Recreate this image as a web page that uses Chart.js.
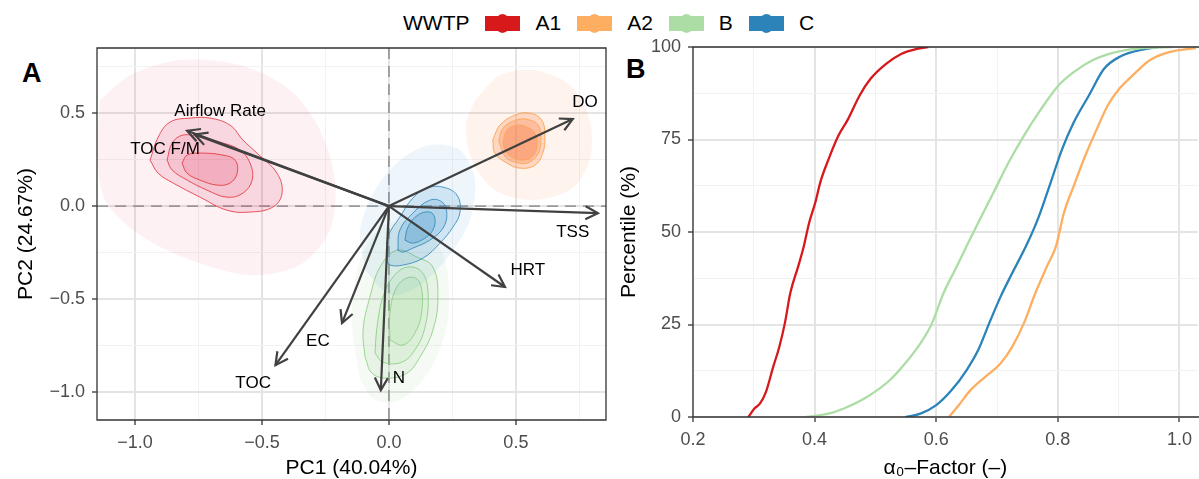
<!DOCTYPE html>
<html>
<head>
<meta charset="utf-8">
<script src="https://cdn.jsdelivr.net/npm/chart.js@4.4.1/dist/chart.umd.min.js"></script>
<style>
  html, body { margin: 0; padding: 0; background: #fff; }
  body { width: 1199px; height: 479px; position: relative; overflow: hidden; font-family: "Liberation Sans", Arial, sans-serif; }
  #pca { position: absolute; left: 0; top: 0; }
  #ecdf { position: absolute; left: 615px; top: 0; }
  .panel-tag { position: absolute; font-weight: bold; font-size: 27px; line-height: 1; color: #000; }
  #legend { position: absolute; left: 403px; top: 10px; height: 26px; display: flex; align-items: center; font-size: 21px; color: #000; }
  .key { position: relative; width: 35px; height: 15px; margin-left: 16px; margin-right: 15px; }
  .key::after { content: ''; position: absolute; left: 10px; top: -2px; width: 15px; height: 19px; border-radius: 50%; background: inherit; }
</style>
</head>
<body>
<div id="legend"><span>WWTP</span></div>
<div class="panel-tag" style="left:22px; top:60px;">A</div>
<div class="panel-tag" style="left:626px; top:56px;">B</div>
<canvas id="pca" width="615" height="479"></canvas>
<canvas id="ecdf" width="584" height="479"></canvas>
<script>
Chart.defaults.font.family = '"Liberation Sans", Arial, sans-serif';
Chart.defaults.color = '#4D4D4D';

const groups = ['A1', 'A2', 'B', 'C'];
const groupColors = ['#D7191C', '#FDAE61', '#ABDDA4', '#2B83BA'];

// ---- panel A: PCA biplot ----
const pcaTicks = [-1, -0.75, -0.5, -0.25, 0, 0.25, 0.5, 0.75];
const pcaMajor = [-1, -0.5, 0, 0.5];

const loadingNames = ['Airflow Rate', 'TOC F/M', 'DO', 'TSS', 'HRT', 'N', 'EC', 'TOC'];
const loadingPC1 = [-0.795, -0.765, 0.724, 0.823, 0.457, -0.032, -0.185, -0.447];
const loadingPC2 = [0.405, 0.385, 0.468, -0.038, -0.435, -0.99, -0.629, -0.855];
const labelPC1 = [-0.665, -0.882, 0.772, 0.724, 0.547, 0.039, -0.28, -0.535];
const labelPC2 = [0.511, 0.306, 0.559, -0.14, -0.344, -0.925, -0.726, -0.952];

// score clouds (outline of the points) and density contours, [PC1, PC2]
const a1Extent = [[-1.138, 0.570], [-1.020, 0.704], [-0.823, 0.785], [-0.587, 0.758], [-0.390, 0.624], [-0.272, 0.409], [-0.213, 0.140], [-0.232, -0.129], [-0.350, -0.317], [-0.547, -0.371], [-0.783, -0.290], [-0.980, -0.156], [-1.118, 0.032], [-1.150, 0.301]];
const a1Outer = [[-0.941, 0.247], [-0.909, 0.371], [-0.862, 0.452], [-0.783, 0.473], [-0.705, 0.473], [-0.626, 0.435], [-0.575, 0.355], [-0.520, 0.285], [-0.441, 0.177], [-0.421, 0.070], [-0.457, -0.005], [-0.547, -0.032], [-0.638, -0.022], [-0.744, 0.048], [-0.850, 0.124], [-0.909, 0.177]];
const a1Middle = [[-0.874, 0.247], [-0.854, 0.339], [-0.811, 0.382], [-0.744, 0.371], [-0.665, 0.344], [-0.587, 0.301], [-0.547, 0.231], [-0.539, 0.140], [-0.575, 0.070], [-0.638, 0.048], [-0.717, 0.086], [-0.795, 0.140], [-0.854, 0.194]];
const a1Inner = [[-0.815, 0.231], [-0.795, 0.274], [-0.744, 0.285], [-0.654, 0.274], [-0.606, 0.247], [-0.598, 0.177], [-0.626, 0.124], [-0.677, 0.113], [-0.744, 0.140], [-0.795, 0.177]];

const a2Extent = [[0.339, 0.570], [0.437, 0.704], [0.575, 0.731], [0.713, 0.651], [0.791, 0.462], [0.791, 0.247], [0.713, 0.086], [0.555, 0.032], [0.417, 0.086], [0.327, 0.247], [0.303, 0.435]];
const a2Outer = [[0.409, 0.355], [0.437, 0.435], [0.496, 0.489], [0.555, 0.500], [0.602, 0.462], [0.614, 0.371], [0.606, 0.285], [0.575, 0.220], [0.516, 0.204], [0.465, 0.231], [0.417, 0.285]];
const a2Middle = [[0.432, 0.350], [0.450, 0.420], [0.500, 0.462], [0.550, 0.465], [0.590, 0.430], [0.598, 0.345], [0.585, 0.275], [0.545, 0.232], [0.500, 0.235], [0.460, 0.262]];
const a2Inner = [[0.449, 0.344], [0.465, 0.409], [0.504, 0.435], [0.543, 0.425], [0.575, 0.392], [0.583, 0.317], [0.563, 0.263], [0.524, 0.247], [0.484, 0.263], [0.457, 0.301]];

const bExtent = [[-0.114, -0.935], [-0.146, -0.613], [-0.114, -0.290], [-0.016, -0.102], [0.122, -0.102], [0.220, -0.290], [0.232, -0.613], [0.161, -0.882], [0.043, -1.043], [-0.055, -1.043]];
const bOuter = [[-0.094, -0.812], [-0.102, -0.667], [-0.075, -0.489], [-0.035, -0.328], [0.031, -0.237], [0.110, -0.274], [0.173, -0.328], [0.193, -0.489], [0.173, -0.667], [0.122, -0.812], [0.071, -0.898], [-0.008, -0.925], [-0.067, -0.898]];
const bMiddle = [[-0.055, -0.790], [-0.047, -0.651], [-0.024, -0.489], [0.016, -0.382], [0.071, -0.328], [0.130, -0.355], [0.154, -0.468], [0.142, -0.651], [0.102, -0.774], [0.051, -0.839], [-0.024, -0.839]];
const bInner = [[0.004, -0.720], [0.004, -0.575], [0.031, -0.435], [0.083, -0.382], [0.122, -0.414], [0.130, -0.559], [0.102, -0.683], [0.055, -0.747]];

const cExtent = [[-0.094, -0.344], [-0.114, -0.129], [-0.055, 0.086], [0.043, 0.247], [0.161, 0.328], [0.280, 0.301], [0.339, 0.140], [0.319, -0.075], [0.240, -0.263], [0.122, -0.425], [0.004, -0.478]];
const cOuter = [[-0.008, -0.290], [-0.004, -0.167], [0.043, -0.059], [0.094, 0.043], [0.150, 0.097], [0.213, 0.102], [0.268, 0.059], [0.280, -0.032], [0.252, -0.113], [0.201, -0.199], [0.134, -0.280], [0.055, -0.317], [0.004, -0.317]];
const cMiddle = [[0.035, -0.237], [0.043, -0.129], [0.094, -0.038], [0.161, 0.032], [0.209, 0.022], [0.228, -0.038], [0.213, -0.118], [0.161, -0.183], [0.094, -0.226], [0.055, -0.247]];
const cInner = [[0.063, -0.183], [0.075, -0.113], [0.114, -0.048], [0.161, -0.032], [0.181, -0.065], [0.173, -0.129], [0.142, -0.172], [0.094, -0.199]];

// ---- panel B: ECDF of alpha0 ----
const ecdfTicksX = [0.2, 0.3, 0.4, 0.5, 0.6, 0.7, 0.8, 0.9, 1.0];
const ecdfMajorX = [0.2, 0.4, 0.6, 0.8, 1.0];
const ecdfTicksY = [0, 12.5, 25, 37.5, 50, 62.5, 75, 87.5, 100];
const ecdfMajorY = [0, 25, 50, 75, 100];

const a1Alpha = [0.291, 0.301, 0.310, 0.320, 0.332, 0.342, 0.351, 0.360, 0.373, 0.382, 0.391, 0.401, 0.410, 0.423, 0.439, 0.455, 0.474, 0.492, 0.518, 0.543, 0.568, 0.587];
const a1Pct = [0, 2.3, 3.6, 6.8, 13.6, 19.0, 25.3, 33.5, 40.7, 46.0, 52.5, 57.9, 63.8, 69.7, 76.0, 80.5, 86.9, 91.4, 95.5, 98.2, 99.5, 100];
const a2Alpha = [0.621, 0.637, 0.656, 0.681, 0.706, 0.725, 0.744, 0.763, 0.782, 0.797, 0.810, 0.826, 0.845, 0.864, 0.882, 0.901, 0.926, 0.951, 0.983, 1.027];
const a2Pct = [0, 3.2, 7.2, 10.9, 14.5, 19.0, 25.3, 33.5, 40.7, 46.2, 55.2, 62.4, 70.6, 77.8, 84.2, 88.7, 92.8, 96.4, 98.6, 99.7];
const bAlpha = [0.386, 0.423, 0.448, 0.486, 0.524, 0.549, 0.574, 0.593, 0.612, 0.631, 0.650, 0.669, 0.694, 0.719, 0.744, 0.769, 0.801, 0.826, 0.857, 0.895, 0.939, 0.989];
const bPct = [0, 0.9, 2.3, 5.4, 10.0, 14.5, 19.9, 25.3, 33.5, 39.8, 46.2, 52.5, 60.6, 68.8, 76.0, 82.4, 89.6, 93.2, 96.4, 98.6, 99.7, 100];
const cAlpha = [0.549, 0.574, 0.600, 0.625, 0.650, 0.669, 0.687, 0.706, 0.725, 0.750, 0.769, 0.788, 0.807, 0.826, 0.851, 0.876, 0.901, 0.945, 0.964];
const cPct = [0, 0.9, 3.2, 7.2, 12.7, 18.1, 25.3, 32.6, 38.9, 47.0, 54.3, 63.3, 72.4, 79.6, 86.9, 94.1, 97.3, 99.5, 100];

// legend
const legendEl = document.getElementById('legend');
groups.forEach((g, i) => {
    const key = document.createElement('span');
    key.className = 'key';
    key.style.background = groupColors[i];
    const txt = document.createElement('span');
    txt.textContent = g;
    legendEl.appendChild(key);
    legendEl.appendChild(txt);
});

const fmtNum = (v, d) => v.toFixed(d).replace('-', '\u2212');
const closed = pts => pts.concat([pts[0]]).map(([x, y]) => ({ x, y }));

function gridAxis(min, max, ticks, major, fmt, title, titlePad, afterFit) {
    const isMajor = v => major.some(m => Math.abs(m - v) < 1e-9);
    return {
        type: 'linear', min, max,
        afterBuildTicks: ax => { ax.ticks = ticks.map(v => ({ value: v })); },
        afterFit,
        border: { display: false },
        grid: {
            color: c => isMajor(c.tick.value) ? '#E4E4E4' : '#F2F2F2',
            lineWidth: c => isMajor(c.tick.value) ? 2 : 1,
            tickColor: c => isMajor(c.tick.value) ? '#333333' : 'rgba(0,0,0,0)',
            tickLength: 5, tickWidth: 1.3, drawTicks: true
        },
        ticks: {
            autoSkip: false, maxRotation: 0, padding: 7, color: '#4D4D4D', font: { size: 18 },
            callback: v => isMajor(v) ? fmt(v) : ''
        },
        title: { display: true, text: title, color: '#000', font: { size: 21, lineHeight: 1 }, padding: { top: titlePad, bottom: 0 } }
    };
}

const panelBorder = {
    id: 'panelBorder',
    afterDatasetsDraw(chart, args, opts) {
        const { ctx, chartArea: a } = chart;
        ctx.save();
        ctx.strokeStyle = '#333333';
        ctx.lineWidth = 1.3;
        ctx.beginPath();
        if (opts.openRight) {
            ctx.moveTo(a.right + 5, a.top); ctx.lineTo(a.left, a.top);
            ctx.lineTo(a.left, a.bottom); ctx.lineTo(a.right + 5, a.bottom);
        } else {
            ctx.rect(a.left, a.top, a.right - a.left, a.bottom - a.top);
        }
        ctx.stroke();
        ctx.restore();
    }
};

const zeroLines = {
    id: 'zeroLines',
    beforeDatasetsDraw(chart) {
        const { ctx, chartArea: a, scales: { x, y } } = chart;
        const px = x.getPixelForValue(0), py = y.getPixelForValue(0);
        ctx.save();
        ctx.strokeStyle = '#9A9A9A';
        ctx.lineWidth = 1.8;
        ctx.setLineDash([11, 7]);
        ctx.beginPath();
        ctx.moveTo(px, a.top); ctx.lineTo(px, a.bottom);
        ctx.moveTo(a.left, py); ctx.lineTo(a.right, py);
        ctx.stroke();
        ctx.restore();
    }
};

const arrowHeads = {
    id: 'arrowHeads',
    afterDatasetsDraw(chart) {
        const { ctx } = chart;
        chart.data.datasets.forEach((ds, i) => {
            if (!ds.isArrow) return;
            const pts = chart.getDatasetMeta(i).data;
            const p0 = pts[0], p1 = pts[1];
            const ang = Math.atan2(p1.y - p0.y, p1.x - p0.x);
            const len = 14, spread = Math.PI / 6.5;
            ctx.save();
            ctx.strokeStyle = ds.borderColor;
            ctx.lineWidth = ds.borderWidth;
            ctx.beginPath();
            ctx.moveTo(p1.x - len * Math.cos(ang - spread), p1.y - len * Math.sin(ang - spread));
            ctx.lineTo(p1.x, p1.y);
            ctx.lineTo(p1.x - len * Math.cos(ang + spread), p1.y - len * Math.sin(ang + spread));
            ctx.stroke();
            ctx.restore();
        });
        // loading labels
        const { x, y } = chart.scales;
        ctx.save();
        ctx.fillStyle = '#000';
        ctx.font = '17px "Liberation Sans", Arial, sans-serif';
        ctx.textAlign = 'center';
        ctx.textBaseline = 'middle';
        loadingNames.forEach((name, i) => {
            ctx.fillText(name, x.getPixelForValue(labelPC1[i]), y.getPixelForValue(labelPC2[i]));
        });
        ctx.restore();
    }
};

// cloud styling per group: [rgb, contour stroke, layer alphas]
const cloudStyle = {
    A1: ['225,60,100', 'rgba(228,45,55,0.8)', [0.07, 0.14, 0.13, 0.15]],
    A2: ['250,120,60', 'rgba(253,165,90,0.95)', [0.09, 0.24, 0.25, 0.3]],
    B: ['140,205,130', 'rgba(140,205,130,0.85)', [0.09, 0.13, 0.12, 0.15]],
    C: ['55,145,200', 'rgba(43,131,186,0.8)', [0.08, 0.17, 0.2, 0.25]]
};
const cloudLayers = {
    A1: [a1Extent, a1Outer, a1Middle, a1Inner],
    A2: [a2Extent, a2Outer, a2Middle, a2Inner],
    B: [bExtent, bOuter, bMiddle, bInner],
    C: [cExtent, cOuter, cMiddle, cInner]
};
const drawRank = ['B', 'C', 'A1', 'A2'];

const pcaDatasets = [];
drawRank.forEach((g, r) => {
    const [rgb, stroke, alphas] = cloudStyle[g];
    cloudLayers[g].forEach((layer, l) => {
        pcaDatasets.push({
            label: g + ' ' + l,
            data: closed(layer),
            showLine: true,
            fill: 'shape',
            backgroundColor: `rgba(${rgb},${alphas[l]})`,
            borderColor: l === 0 ? 'rgba(0,0,0,0)' : stroke,
            borderWidth: l === 0 ? 0 : 1,
            tension: l === 0 ? 0.3 : 0.4,
            pointRadius: 0,
            order: 100 - (r * 10 + l)
        });
    });
});
loadingNames.forEach((name, i) => {
    pcaDatasets.push({
        label: name,
        data: [{ x: 0, y: 0 }, { x: loadingPC1[i], y: loadingPC2[i] }],
        showLine: true,
        isArrow: true,
        borderColor: '#404040',
        borderWidth: 2.2,
        pointRadius: 0,
        fill: false,
        order: 0
    });
});

new Chart(document.getElementById('pca'), {
    type: 'scatter',
    data: { datasets: pcaDatasets },
    options: {
        responsive: false,
        animation: false,
        layout: { padding: { top: 48, right: 9, left: 0, bottom: 0 } },
        plugins: { legend: { display: false }, tooltip: { enabled: false }, panelBorder: {} },
        scales: {
            x: gridAxis(-1.15, 0.855, pcaTicks, pcaMajor, v => fmtNum(v, 1), 'PC1 (40.04%)', 0, ax => { ax.height = 59; }),
            y: gridAxis(-1.15, 0.85, pcaTicks, pcaMajor, v => fmtNum(v, 1), 'PC2 (24.67%)', 16, ax => { ax.width = 97; })
        }
    },
    plugins: [zeroLines, arrowHeads, panelBorder]
});

// panel B
const ecdfSeries = [[a1Alpha, a1Pct], [a2Alpha, a2Pct], [bAlpha, bPct], [cAlpha, cPct]];
const ecdfDatasets = ecdfSeries.map(([xs, ps], i) => ({
    label: groups[i],
    data: xs.map((x, k) => ({ x, y: ps[k] })),
    showLine: true,
    borderColor: groupColors[i],
    borderWidth: 2.3,
    pointRadius: 0,
    cubicInterpolationMode: 'monotone',
    fill: false
}));

new Chart(document.getElementById('ecdf'), {
    type: 'scatter',
    data: { datasets: ecdfDatasets },
    options: {
        responsive: false,
        animation: false,
        layout: { padding: { top: 47, right: 0, left: 0, bottom: 0 } },
        plugins: { legend: { display: false }, tooltip: { enabled: false }, panelBorder: { openRight: true } },
        scales: {
            x: gridAxis(0.2, 1.03, ecdfTicksX, ecdfMajorX, v => v.toFixed(1), '\u03B1\u2080\u2013Factor (\u2013)', 0, ax => { ax.height = 62; }),
            y: gridAxis(0, 100, ecdfTicksY, ecdfMajorY, v => String(v), 'Percentile (%)', 4, ax => { ax.width = 78; })
        }
    },
    plugins: [panelBorder]
});
</script>
</body>
</html>
